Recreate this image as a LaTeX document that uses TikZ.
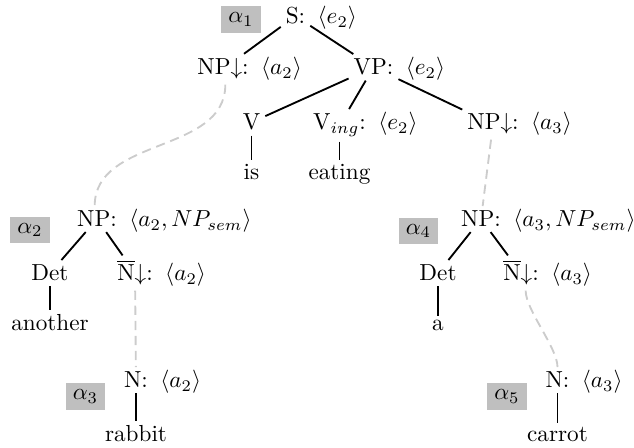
\documentclass[tikz,border=0pt]{standalone}
\begin{document}
\begin{tikzpicture}[x=0.4311pt,y=-0.4311pt,
  cat/.style={anchor=base,inner sep=2pt},
  sem/.style={anchor=base west,inner sep=0pt,xshift=3pt},
  tag/.style={fill=gray!50,minimum width=17.2pt,minimum height=11.6pt,inner sep=0pt},
  edge/.style={line width=0.8pt},
  subst/.style={line width=0.8pt,color=gray!40,dash pattern=on 4pt off 2.5pt}]
\useasboundingbox (0,0) rectangle (634,448);

% alpha 1
\node[tag] (t1) at (241,19.5) {$\alpha_1$};
\node[cat] (S) at (295.5,24) {S:};
\node[sem] (Ss) at (S.base east) {$\langle e_2\rangle$};
\node[cat] (NPa) at (223,75) {NP$\downarrow$:};
\node[sem] (NPas) at (NPa.base east) {$\langle a_2\rangle$};
\node[cat] (VP) at (373.5,75) {VP:};
\node[sem] (VPs) at (VP.base east) {$\langle e_2\rangle$};
\node[cat] (V) at (251.5,130) {V};
\node[cat] (Ving) at (339.5,130) {V$_{ing}$:};
\node[sem] (Vings) at (Ving.base east) {$\langle e_2\rangle$};
\node[cat] (NPb) at (493,130) {NP$\downarrow$:};
\node[sem] (NPbs) at (NPb.base east) {$\langle a_3\rangle$};
\node[cat] (is) at (251.5,180) {is};
\node[cat] (eating) at (339.5,180) {eating};

% alpha 2
\node[tag] (t2) at (30,230) {$\alpha_2$};
\node[cat] (NPc) at (97,227) {NP:};
\node[sem] (NPcs) at (NPc.base east) {$\langle a_2, NP_{sem}\rangle$};
\node[cat] (Deta) at (50,281) {Det};
\node[cat] (Nbara) at (135,281) {$\overline{\mbox{N}}{\downarrow}$:};
\node[sem] (Nbaras) at (Nbara.base east) {$\langle a_2\rangle$};
\node[cat] (another) at (50,331) {another};

% alpha 3
\node[tag] (t3) at (85.5,396.5) {$\alpha_3$};
\node[cat] (Na) at (136,388) {N:};
\node[sem] (Nas) at (Na.base east) {$\langle a_2\rangle$};
\node[cat] (rabbit) at (136,442) {rabbit};

% alpha 4
\node[tag] (t4) at (418.5,231) {$\alpha_4$};
\node[cat] (NPd) at (481,227) {NP:};
\node[sem] (NPds) at (NPd.base east) {$\langle a_3, NP_{sem}\rangle$};
\node[cat] (Detb) at (438,281) {Det};
\node[cat] (Nbarb) at (521,281) {$\overline{\mbox{N}}{\downarrow}$:};
\node[sem] (Nbarbs) at (Nbarb.base east) {$\langle a_3\rangle$};
\node[cat] (a) at (438,331) {a};

% alpha 5
\node[tag] (t5) at (507,396.5) {$\alpha_5$};
\node[cat] (Nb) at (557.5,388) {N:};
\node[sem] (Nbs) at (Nb.base east) {$\langle a_3\rangle$};
\node[cat] (carrot) at (557.5,442) {carrot};

% tree edges
\draw[edge] (S) -- (NPa);
\draw[edge] (S) -- (VP);
\draw[edge] (VP) -- (V);
\draw[edge] (VP) -- (Ving);
\draw[edge] (VP) -- (NPb);
\draw[edge] (V) -- (is);
\draw[edge] (Ving) -- (eating);
\draw[edge] (NPc) -- (Deta);
\draw[edge] (NPc) -- (Nbara);
\draw[edge] (Deta) -- (another);
\draw[edge] (Na) -- (rabbit);
\draw[edge] (NPd) -- (Detb);
\draw[edge] (NPd) -- (Nbarb);
\draw[edge] (Detb) -- (a);
\draw[edge] (Nb) -- (carrot);

% substitutions
\draw[subst] ([xshift=1pt]NPa.south) to[out=-90,in=90] ([xshift=-1pt]NPc.north);
\draw[subst] (NPb) -- (NPd);
\draw[subst] (Nbara) -- (Na);
\draw[subst] ([xshift=2pt]Nbarb.south) to[out=-90,in=90,looseness=0.6] (Nb.north);
\end{tikzpicture}
\end{document}
